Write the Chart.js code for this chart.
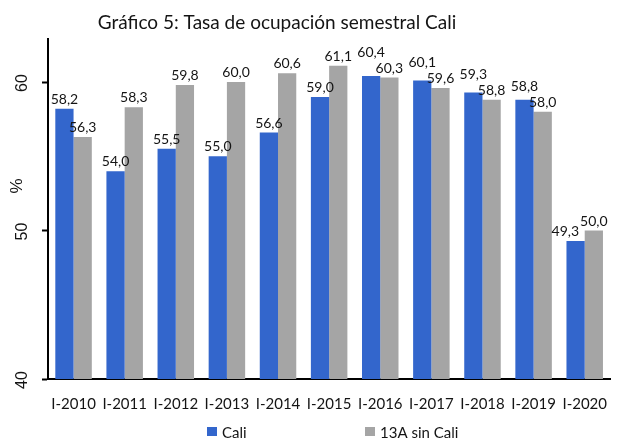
<!DOCTYPE html>
<html>
<head>
<meta charset="utf-8">
<script src="https://cdn.jsdelivr.net/npm/chart.js@4/dist/chart.umd.min.js"></script>
<style>
  html, body { margin: 0; padding: 0; background: #fff; overflow: hidden; }
  #wrap { width: 623px; height: 440px; }
</style>
</head>
<body>
<div id="wrap"><canvas id="c" width="623" height="440"></canvas></div>
<script>
const categories = ["I-2010","I-2011","I-2012","I-2013","I-2014","I-2015","I-2016","I-2017","I-2018","I-2019","I-2020"];
const caliValues = [58.2, 54.0, 55.5, 55.0, 56.6, 59.0, 60.4, 60.1, 59.3, 58.8, 49.3];
const sinCaliValues = [56.3, 58.3, 59.8, 60.0, 60.6, 61.1, 60.3, 59.6, 58.8, 58.0, 50.0];
const seriesNames = ["Cali", "13A sin Cali"];
const yTicks = [40, 50, 60];
const titleText = "Gráfico 5: Tasa de ocupación semestral Cali";
const yTitle = "%";

const BLUE = "#3366CC";
const GRAY = "#A5A5A5";
const TEXT = "#141414";
const LATO = "Lato, 'Open Sans', sans-serif";
const ARIAL = "'Liberation Sans', Arial, sans-serif";

const fmt = v => v.toFixed(1).replace('.', ',');

const decorPlugin = {
  id: 'decor',
  afterDatasetsDraw(chart) {
    const ctx = chart.ctx;
    const m0 = chart.getDatasetMeta(0), m1 = chart.getDatasetMeta(1);
    ctx.save();
    ctx.font = "14px " + LATO;
    ctx.fillStyle = TEXT;
    ctx.textBaseline = 'alphabetic';
    ctx.textAlign = 'center';
    const H = 10, GAP = 5;
    for (let i = 0; i < categories.length; i++) {
      const b = m0.data[i], g = m1.data[i];
      const tb = fmt(caliValues[i]), tg = fmt(sinCaliValues[i]);
      const wb = ctx.measureText(tb).width, wg = ctx.measureText(tg).width;
      let bx = b.x, by = b.y - GAP;
      const gx = g.x, gy = g.y - GAP;
      const hOverlap = Math.abs(bx - gx) < (wb + wg) / 2;
      const vOverlap = Math.abs(by - gy) < H + 4;
      if (hOverlap && vOverlap) {
        if (caliValues[i] >= sinCaliValues[i]) {
          by = gy - H - 5.5;
        } else {
          bx = (gx - wg / 2) - 1 - wb / 2;
        }
      }
      ctx.fillText(tb, bx, by);
      ctx.fillText(tg, gx, gy);
    }
    ctx.restore();
  },
  afterDraw(chart) {
    const ctx = chart.ctx;
    const ys = chart.scales.y;
    ctx.save();
    // Title
    ctx.fillStyle = TEXT;
    ctx.font = "19px " + LATO;
    ctx.textAlign = 'center';
    ctx.textBaseline = 'alphabetic';
    ctx.fillText(titleText, 277, 29);
    // Y tick labels (rotated)
    ctx.font = "16px " + ARIAL;
    ctx.textBaseline = 'middle';
    yTicks.forEach(v => {
      const py = ys.getPixelForValue(v);
      ctx.save();
      ctx.translate(23, py + 1);
      ctx.rotate(-Math.PI / 2);
      ctx.fillText(String(v), 0, 0);
      ctx.restore();
    });
    // Y title
    ctx.save();
    ctx.font = "17px " + ARIAL;
    ctx.translate(17, 186);
    ctx.rotate(-Math.PI / 2);
    ctx.fillText(yTitle, 0, 0);
    ctx.restore();
    // Legend
    const items = [
      { x: 207, color: BLUE, label: seriesNames[0] },
      { x: 365, color: GRAY, label: seriesNames[1] }
    ];
    ctx.font = "15px " + LATO;
    ctx.textAlign = 'left';
    ctx.textBaseline = 'middle';
    items.forEach(it => {
      ctx.fillStyle = it.color;
      ctx.fillRect(it.x, 427, 10, 9);
      ctx.fillStyle = TEXT;
      ctx.fillText(it.label, it.x + 15, 433);
    });
    ctx.restore();
  }
};

new Chart(document.getElementById('c'), {
  type: 'bar',
  data: {
    labels: categories,
    datasets: [
      { label: seriesNames[0], data: caliValues, backgroundColor: BLUE, borderWidth: 0 },
      { label: seriesNames[1], data: sinCaliValues, backgroundColor: GRAY, borderWidth: 0 }
    ]
  },
  options: {
    responsive: false,
    animation: false,
    layout: { padding: { top: 39, left: 0, right: 0, bottom: 0 } },
    datasets: { bar: { categoryPercentage: 0.714, barPercentage: 1.0 } },
    plugins: {
      legend: { display: false },
      title: { display: false },
      tooltip: { enabled: false }
    },
    scales: {
      x: {
        offset: true,
        grid: { display: true, drawOnChartArea: false, drawTicks: false },
        border: { display: true, color: '#000', width: 2 },
        ticks: {
          color: TEXT, font: { family: LATO, size: 15 },
          padding: 16, maxRotation: 0, minRotation: 0, autoSkip: false
        },
        afterFit(scale) { scale.height = 61; }
      },
      y: {
        min: 40, max: 62.9,
        grid: { display: true, drawOnChartArea: false, drawTicks: true, tickLength: 6, color: '#000', tickWidth: 2 },
        border: { display: true, color: '#000', width: 2 },
        ticks: { display: false, stepSize: 10, includeBounds: false },
        afterFit(scale) { scale.width = 48; }
      }
    }
  },
  plugins: [decorPlugin]
});
</script>
</body>
</html>
